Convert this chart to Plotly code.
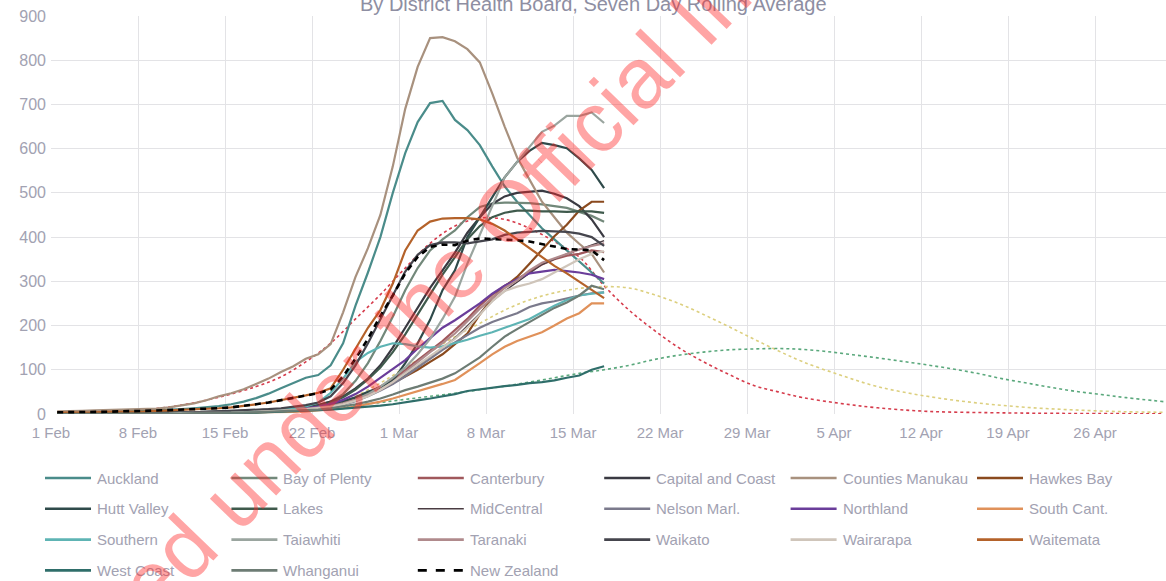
import pandas as pd
import plotly.graph_objects as go

# ---------------- data ----------------
START = "2022-02-01 12:00"
N_DAYS = 45  # 1 Feb .. 17 Mar

AUCKLAND = [3,3,4,4,5,5,6,7,8,9,11,13,15,18,22,28,36,46,58,70,82,88,110,160,245,320,400,500,590,660,703,708,665,642,608,560,515,480,450,420,395,370,345,320,295]
BAY_OF_PLENTY = [1,1,1,1,2,2,2,2,3,3,4,4,5,5,6,7,8,9,11,13,16,20,28,45,75,115,165,220,280,330,370,395,415,445,468,476,478,478,477,474,470,466,457,448,435]
CANTERBURY = [0,0,0,1,1,1,1,1,2,2,2,3,3,4,4,5,6,7,9,11,13,16,21,28,37,48,62,78,100,122,145,165,190,215,245,270,290,305,322,338,350,358,362,370,366]
CAPITAL_COAST = [1,1,1,1,2,2,2,3,3,3,4,4,5,5,6,7,8,9,10,12,15,20,28,40,58,80,110,150,195,240,285,325,365,410,445,475,492,500,503,505,498,488,470,440,400]
COUNTIES = [6,6,7,8,9,9,10,11,12,15,19,24,31,40,47,56,68,80,95,108,125,135,158,230,310,375,450,560,690,785,850,852,843,825,795,725,650,580,530,480,445,410,385,362,320]
HAWKES_BAY = [1,1,1,1,1,2,2,2,2,3,3,3,4,4,5,5,6,7,8,10,12,15,20,27,35,45,57,70,85,100,118,135,158,182,225,262,288,310,340,372,402,428,460,480,480]
HUTT_VALLEY = [1,1,1,1,2,2,2,2,3,3,3,4,4,5,5,6,7,8,9,10,12,15,20,28,38,50,60,75,115,160,213,280,325,400,446,490,535,570,595,613,608,601,578,552,511]
LAKES = [1,1,1,1,1,2,2,2,2,3,3,3,4,4,5,6,7,8,9,11,14,18,25,38,55,78,105,140,180,225,268,315,355,395,425,445,455,460,460,458,458,457,458,458,455]
MIDCENTRAL = [0,0,0,0,1,1,1,1,1,2,2,2,3,3,4,4,5,6,7,9,11,14,18,24,32,42,54,68,88,108,128,150,172,200,228,255,278,298,318,338,350,362,372,382,392]
NELSON_MARL = [0,0,0,0,1,1,1,1,1,1,2,2,2,3,3,4,4,5,6,7,9,11,15,21,29,40,53,68,85,105,125,145,162,178,195,208,218,228,242,250,255,262,268,273,275]
NORTHLAND = [0,0,0,0,1,1,1,1,1,2,2,2,3,3,4,4,5,6,8,10,13,17,23,32,45,62,82,102,122,148,172,195,212,230,250,272,290,305,318,322,326,323,320,315,305]
SOUTH_CANT = [0,0,0,0,0,0,1,1,1,1,1,1,2,2,2,3,3,4,4,5,6,8,10,13,17,22,28,35,43,52,60,68,77,95,115,135,152,165,175,185,200,216,228,250,250]
SOUTHERN = [0,0,0,0,1,1,1,1,1,2,2,2,3,3,4,5,6,7,9,12,17,26,48,80,118,138,152,160,158,153,150,153,160,168,177,185,195,205,215,230,245,258,268,272,275]
TAIAWHITI = [0,0,0,0,0,1,1,1,1,1,2,2,2,3,3,4,4,5,6,7,9,12,16,22,32,45,62,82,105,135,170,215,265,340,405,470,535,570,605,638,652,674,674,682,658]
TARANAKI = [0,0,0,0,1,1,1,1,1,2,2,2,3,3,4,4,5,6,7,9,11,14,18,24,32,42,55,72,95,118,140,160,182,210,238,262,285,302,325,342,352,362,372,380,386]
WAIKATO = [1,1,1,2,2,2,2,3,3,3,4,4,5,6,7,8,9,11,13,16,20,26,40,70,110,160,215,268,322,360,382,388,388,386,390,395,405,410,412,414,413,412,408,400,380]
WAIRARAPA = [0,0,0,0,0,1,1,1,1,1,2,2,2,3,3,4,5,6,7,9,11,13,16,22,30,40,55,72,92,112,132,150,170,195,225,255,278,288,295,305,320,335,350,362,368]
WAITEMATA = [3,3,4,4,5,5,6,6,7,8,9,10,11,13,15,18,22,26,31,36,42,48,58,100,148,195,235,295,370,415,435,442,443,443,440,430,415,395,375,355,335,318,300,280,262]
WEST_COAST = [0,0,0,0,0,0,0,1,1,1,1,1,1,2,2,3,3,4,5,6,7,8,10,12,14,16,19,22,27,31,35,40,45,52,56,60,63,66,70,72,76,82,87,100,108]
WHANGANUI = [0,0,0,0,0,1,1,1,1,1,1,2,2,2,3,3,4,5,6,7,8,10,13,17,22,28,35,44,54,62,71,80,92,110,128,152,175,192,208,225,240,252,268,290,282]
NEW_ZEALAND = [4,4,5,5,5,6,6,7,8,9,9,10,11,13,15,18,22,26,31,36,42,47,55,85,125,170,222,268,318,355,378,383,382,392,397,396,395,393,390,384,378,373,372,370,348]

# projections (dotted)
RED_DATES = ['2022-02-08','2022-02-11','2022-02-14','2022-02-17','2022-02-19','2022-02-21','2022-02-23','2022-02-25',
             '2022-02-27','2022-03-01','2022-03-03','2022-03-05','2022-03-07','2022-03-09','2022-03-11','2022-03-13',
             '2022-03-15','2022-03-17','2022-03-19','2022-03-21','2022-03-23','2022-03-25','2022-03-27','2022-03-29',
             '2022-03-31','2022-04-02','2022-04-05','2022-04-08','2022-04-12','2022-04-17','2022-04-22','2022-05-01']
RED_VALS = [9,20,38,62,84,118,160,215,270,330,386,425,443,440,420,390,355,290,235,190,150,118,90,65,50,37,24,14,6,3,1.5,0.5]

YEL_DATES = ['2022-02-25','2022-02-27','2022-03-01','2022-03-03','2022-03-05','2022-03-07','2022-03-09','2022-03-11',
             '2022-03-13','2022-03-15','2022-03-17','2022-03-19','2022-03-21','2022-03-23','2022-03-25','2022-03-27',
             '2022-03-29','2022-03-31','2022-04-02','2022-04-05','2022-04-08','2022-04-12','2022-04-16','2022-04-20',
             '2022-04-24','2022-04-28','2022-05-01']
YEL_VALS = [40,70,105,140,175,205,235,258,274,284,288,285,270,250,225,198,170,143,118,88,62,40,25,15,9,5,4]

GRN_DATES = ['2022-02-19','2022-02-21','2022-02-23','2022-02-25','2022-02-27','2022-03-01','2022-03-03','2022-03-05',
             '2022-03-07','2022-03-09','2022-03-11','2022-03-13','2022-03-15','2022-03-17','2022-03-19','2022-03-21',
             '2022-03-23','2022-03-25','2022-03-27','2022-03-29','2022-03-31','2022-04-02','2022-04-04','2022-04-06',
             '2022-04-08','2022-04-10','2022-04-12','2022-04-14','2022-04-16','2022-04-18','2022-04-20','2022-04-22',
             '2022-04-24','2022-04-26','2022-04-28','2022-05-01']
GRN_VALS = [5,9,14,20,26,33,40,47,55,63,72,82,92,100,110,123,133,140,145,147,148,146,141,134,127,119,111,102,92,80,70,60,51,44,37,28]

SERIES = [
    ("Auckland", AUCKLAND, "#4a8c8a"),
    ("Bay of Plenty", BAY_OF_PLENTY, "#72887a"),
    ("Canterbury", CANTERBURY, "#a0585c"),
    ("Capital and Coast", CAPITAL_COAST, "#3a3a42"),
    ("Counties Manukau", COUNTIES, "#a8917e"),
    ("Hawkes Bay", HAWKES_BAY, "#8a4a1e"),
    ("Hutt Valley", HUTT_VALLEY, "#2f4a4a"),
    ("Lakes", LAKES, "#3f5a4c"),
    ("MidCentral", MIDCENTRAL, "#4a3c42"),
    ("Nelson Marl.", NELSON_MARL, "#7b7a8c"),
    ("Northland", NORTHLAND, "#6a3d9a"),
    ("South Cant.", SOUTH_CANT, "#e0915a"),
    ("Southern", SOUTHERN, "#5eb4b4"),
    ("Taiawhiti", TAIAWHITI, "#9aa59f"),
    ("Taranaki", TARANAKI, "#b08a8c"),
    ("Waikato", WAIKATO, "#45454d"),
    ("Wairarapa", WAIRARAPA, "#cfc5ba"),
    ("Waitemata", WAITEMATA, "#b4622a"),
    ("West Coast", WEST_COAST, "#2f6e6a"),
    ("Whanganui", WHANGANUI, "#6d7c74"),
    ("New Zealand", NEW_ZEALAND, "#000000"),
]

TITLE = "By District Health Board, Seven Day Rolling Average"
WATERMARK = "Released under the Official Information Act"

# ---------------- figure ----------------
W, H = 1166, 581
ML, MR, MT, MB = 51, 0, 16, 167
PW, PH = W - ML - MR, H - MT - MB

dates = pd.date_range(START, periods=N_DAYS, freq="D")
for s in SERIES:
    assert len(s[1]) == N_DAYS, s[0]

fig = go.Figure()

def noon(ds):
    return [d + " 12:00" for d in ds]

for ds, vs, col in [(RED_DATES, RED_VALS, "#d63c4c"), (YEL_DATES, YEL_VALS, "#dccf7e"), (GRN_DATES, GRN_VALS, "#5aa87c")]:
    fig.add_trace(go.Scatter(x=noon(ds), y=vs, mode="lines", showlegend=False, hoverinfo="skip",
                             line=dict(color=col, width=1.6, dash="dot", shape="spline", smoothing=1.0)))

for name, vals, col in SERIES:
    if name == "New Zealand":
        line = dict(color=col, width=2.6, dash="6px,5px")
    elif name == "MidCentral":
        line = dict(color=col, width=1.4)
    else:
        line = dict(color=col, width=2.2)
    fig.add_trace(go.Scatter(x=dates, y=vals, mode="lines", name=name, line=line, showlegend=False))

TXT = "#a2a2b2"
FONT = "Liberation Sans, Arial, sans-serif"

def px(v):
    return (v - ML) / PW

def py(v):
    return (H - MB - v) / PH

# manual legend (6 columns x 4 rows)
shapes, annots = [], []
col_x0, col_dx = 45, 186.4
row_y0, row_dy = 478, 30.8
for k, (name, vals, col) in enumerate(SERIES):
    r, c = divmod(k, 6)
    x0 = col_x0 + c * col_dx
    yy = row_y0 + r * row_dy
    dash = "dash" if name == "New Zealand" else "solid"
    shapes.append(dict(type="line", xref="paper", yref="paper", x0=px(x0), x1=px(x0 + 46), y0=py(yy), y1=py(yy),
                       line=dict(color=col, width=1.6 if name == "MidCentral" else 2.6, dash=dash)))
    annots.append(dict(text=name, xref="paper", yref="paper", x=px(x0 + 50), y=py(yy), xanchor="left", yanchor="middle",
                       showarrow=False, font=dict(family=FONT, size=15, color=TXT)))

annots.append(dict(text=TITLE, xref="paper", yref="paper", x=px(593), y=py(4),
                   xanchor="center", yanchor="middle", showarrow=False, font=dict(family=FONT, size=20, color="#8e8ea2")))
annots.append(dict(text=WATERMARK, xref="paper", yref="paper", x=px(515), y=py(205),
                   xanchor="center", yanchor="middle", showarrow=False, textangle=-46,
                   font=dict(family=FONT, size=86, color="rgba(255,40,40,0.42)")))

fig.update_layout(
    width=W, height=H,
    margin=dict(l=ML, r=MR, t=MT, b=MB, pad=0),
    paper_bgcolor="white", plot_bgcolor="white",
    showlegend=False,
    shapes=shapes, annotations=annots,
    font=dict(family=FONT, size=15, color=TXT),
    xaxis=dict(type="date", range=["2022-02-01", "2022-05-01 17:00"], tick0="2022-02-01", dtick=7 * 86400000,
               tickformat="%-d %b", showgrid=True, gridcolor="#e3e3e6", gridwidth=1.3, zeroline=False,
               showline=False, ticks="", tickfont=dict(family=FONT, size=15, color=TXT), ticklabelstandoff=8),
    yaxis=dict(range=[0, 900], dtick=100, showgrid=True, gridcolor="#e3e3e6", gridwidth=1.3, zeroline=False,
               showline=False, ticks="", tickfont=dict(family=FONT, size=16, color=TXT), ticklabelstandoff=4),
)

fig.write_html("out.html", config={"displayModeBar": False},
               post_script="document.body.style.margin='0px';")
